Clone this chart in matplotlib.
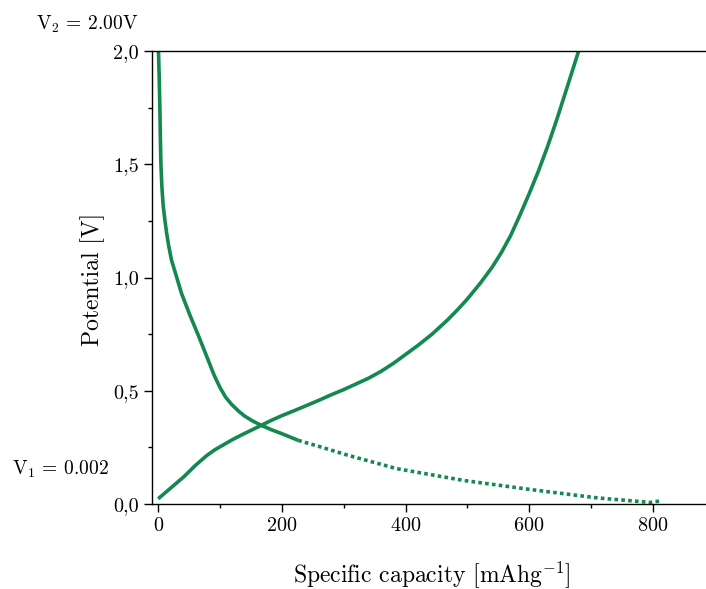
import numpy as np
import matplotlib
matplotlib.use('Agg')
import matplotlib.pyplot as plt
from matplotlib.ticker import MultipleLocator, FuncFormatter

plt.rcParams['font.family'] = 'serif'
plt.rcParams['font.serif'] = ['cmr10']
plt.rcParams['mathtext.fontset'] = 'cm'
plt.rcParams['axes.formatter.use_mathtext'] = True

# charge curve
charge_cap = [0, 20, 41, 60, 79, 92, 106, 120, 135, 150, 165, 182, 200, 220,
              241, 260, 278, 300, 320, 340, 360, 380, 400, 420, 443, 467, 485,
              500, 521, 540, 555, 570, 585, 600, 615, 630, 645, 662, 680]
charge_v = [0.023, 0.07, 0.119, 0.17, 0.215, 0.24, 0.262, 0.284, 0.305, 0.325,
            0.345, 0.368, 0.39, 0.412, 0.436, 0.458, 0.48, 0.505, 0.53, 0.555,
            0.585, 0.62, 0.66, 0.70, 0.75, 0.81, 0.86, 0.905, 0.975, 1.045,
            1.11, 1.185, 1.275, 1.37, 1.47, 1.58, 1.70, 1.845, 2.0]

# discharge curve, dense part
dis_cap = [0.5, 1.5, 2.7, 3.5, 4.4, 6, 8, 10.8, 14, 17, 21.5, 29.6, 37.7,
           51.3, 64.7, 80.9, 90, 99.8, 109, 118.7, 130, 140, 153, 167, 183,
           199.5, 226.5]
dis_v = [2.0, 1.90, 1.755, 1.62, 1.50, 1.40, 1.32, 1.254, 1.19, 1.14, 1.077,
         1.004, 0.93, 0.834, 0.746, 0.635, 0.572, 0.515, 0.472, 0.44, 0.41,
         0.388, 0.366, 0.347, 0.328, 0.311, 0.281]

# discharge curve, sparse tail
tail_cap = [226.5, 264, 307, 386, 494, 602, 710, 796, 815]
tail_v = [0.281, 0.251, 0.215, 0.156, 0.104, 0.064, 0.027, 0.007, 0.015]

green = '#13884f'

fig = plt.figure(figsize=(7.06, 5.89), dpi=100)
ax = fig.add_axes([152 / 706, 1 - 504 / 589, 1 - 152 / 706, (504 - 51) / 589])

ax.plot(charge_cap, charge_v, color=green, lw=2.6, solid_capstyle='butt',
        solid_joinstyle='round')
ax.plot(dis_cap, dis_v, color=green, lw=2.6, solid_capstyle='butt',
        solid_joinstyle='round')
ax.plot(tail_cap, tail_v, color=green, lw=2.6, linestyle=(0, (1, 0.9)),
        dash_capstyle='butt')

ax.set_xlim(-10, 886)
ax.set_ylim(0, 2.0)
ax.xaxis.set_major_locator(MultipleLocator(200))
ax.xaxis.set_minor_locator(MultipleLocator(100))
ax.yaxis.set_major_locator(MultipleLocator(0.5))
ax.yaxis.set_minor_locator(MultipleLocator(0.25))
ax.yaxis.set_major_formatter(FuncFormatter(lambda v, p: f'{v:.1f}'.replace('.', ',')))

ax.spines['right'].set_visible(False)
for s in ['left', 'bottom', 'top']:
    ax.spines[s].set_linewidth(1.0)
ax.tick_params(which='major', direction='out', length=5.5, width=1.0,
               labelsize=14.5, pad=4)
ax.tick_params(which='minor', direction='out', length=3, width=1.0)
ax.tick_params(top=False, right=False, which='both')

ax.set_xlabel(r'Specific capacity [mAhg$^{\mathrm{-1}}$]', fontsize=17, va='center')
ax.set_ylabel('Potential [V]', fontsize=17, va='center')
ax.xaxis.set_label_coords((432 - 152) / 554, (504 - 575) / 453)
ax.yaxis.set_label_coords((93 - 152) / 554, (504 - 279) / 453)

fig.text(36 / 706, 1 - 24 / 589, r'V$_2$ = 2.00V', fontsize=14, va='center')
fig.text(12 / 706, 1 - 469 / 589, r'V$_1$ = 0.002', fontsize=14, va='center')

fig.savefig('out.png', dpi=100)
